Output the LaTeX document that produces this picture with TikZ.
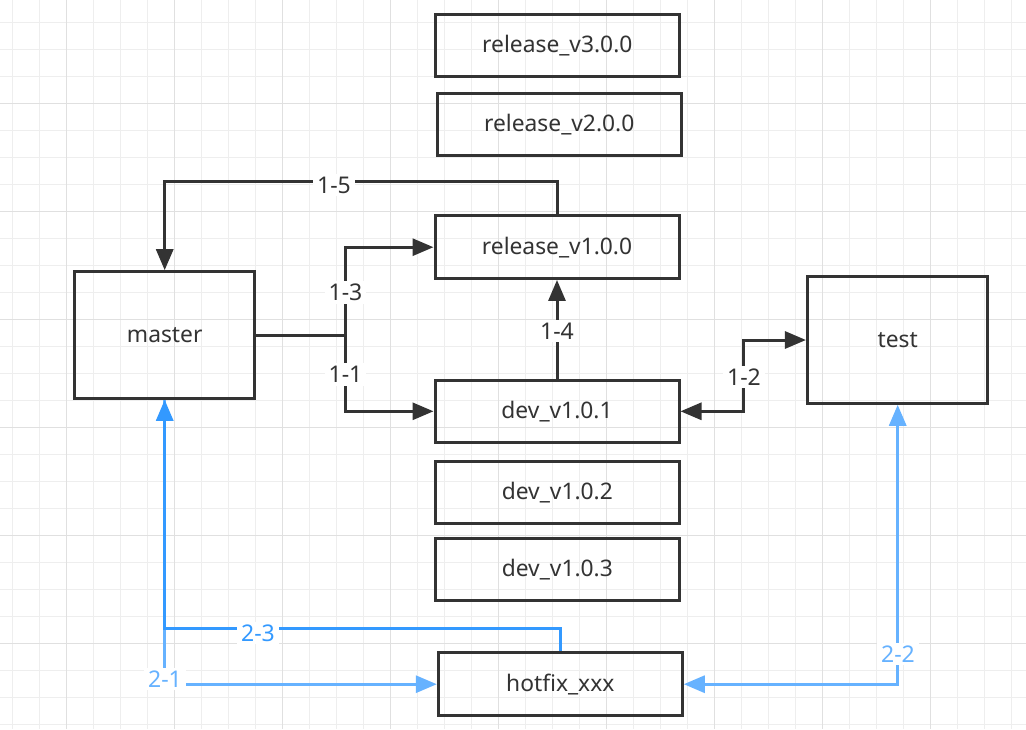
\documentclass[tikz,border=0pt]{standalone}
\usepackage{fontspec}
\setmainfont{Noto Sans}
\usetikzlibrary{arrows.meta}
\definecolor{ink}{HTML}{333333}
\definecolor{bluedark}{HTML}{3399FF}
\definecolor{bluelight}{HTML}{66B2FF}
\definecolor{gridminor}{HTML}{EEEEEE}
\definecolor{gridmajor}{HTML}{E0E0E0}
\tikzset{
  box/.style={draw=ink, line width=3pt, inner sep=0pt, text=ink,
    font=\fontsize{22.8}{27}\selectfont, minimum width=244pt, minimum height=62.5pt},
  bigbox/.style={box, minimum width=180.5pt, minimum height=126.6pt},
  conn/.style={draw=ink, line width=3pt, >={Triangle[length=21pt,width=17pt]}},
  bdconn/.style={conn, draw=bluedark},
  blconn/.style={conn, draw=bluelight},
  lbl/.style={fill=white, inner xsep=4pt, inner ysep=3pt, text=ink,
    font=\fontsize{23}{27}\selectfont},
}
\begin{document}
\begin{tikzpicture}[x=1pt,y=-1pt]
\useasboundingbox (0,0) rectangle (1026,729);
\fill[white] (0,0) rectangle (1026,729);
% grid
\foreach \i in {0,...,37} \draw[gridminor,line width=1pt] ({12.3+27*\i},0) -- ++(0,729);
\foreach \i in {0,...,26} \draw[gridminor,line width=1pt] (0,{22.3+27*\i}) -- ++(1026,0);
\foreach \i in {0,...,9} \draw[gridmajor,line width=1pt] ({66.3+108*\i},0) -- ++(0,729);
\foreach \i in {0,...,6} \draw[gridmajor,line width=1pt] (0,{-4.7+108*\i}) -- ++(1026,0);

% boxes
\node[box] (r3) at (557.3,45.3) {release\_v3.0.0};
\node[box] (r2) at (559.2,124.3) {release\_v2.0.0};
\node[box] (r1) at (557,247.2) {release\_v1.0.0};
\node[box] (d1) at (557,411.3) {dev\_v1.0.1};
\node[box] (d2) at (557.3,492.3) {dev\_v1.0.2};
\node[box] (d3) at (557.3,569.7) {dev\_v1.0.3};
\node[box] (hf) at (560.3,684.2) {hotfix\_xxx};
\node[bigbox] (master) at (164.7,335) {master};
\node[bigbox] (test) at (897.7,340) {test};

% black connectors
\draw[conn,->] (r1.north) -- ++(0,-32.7) -| (master.north);
\coordinate (j) at (345,335);
\draw[conn] (master.east) -- (j);
\draw[conn,->] (j) |- (r1.west);
\draw[conn,->] (j) |- (d1.west);
\draw[conn,->] (d1.north) -- (r1.south);
\coordinate (k) at (743.3,0);
\draw[conn,<->] (d1.east) -- (d1.east -| k) |- (test.west);

% blue connectors
\draw[blconn,->] (master.south) |- (hf.west);
\draw[blconn,<->] (test.south) |- (hf.east);
\draw[bdconn,->] (hf.north) -- ++(0,-22.6) -| (master.south);

% labels
\node[lbl] (l15) at (334,185) {1-5};
\node[lbl] (l13) at (345.5,292.5) {1-3};
\node[lbl] (l11) at (345.5,374.7) {1-1};
\node[lbl] (l14) at (557,331) {1-4};
\node[lbl] (l12) at (744,377) {1-2};
\node[lbl,text=bluedark] (l23) at (258,633) {2-3};
\node[lbl,text=bluelight] (l21) at (165,679) {2-1};
\node[lbl,text=bluelight] (l22) at (898,654) {2-2};
\end{tikzpicture}
\end{document}
